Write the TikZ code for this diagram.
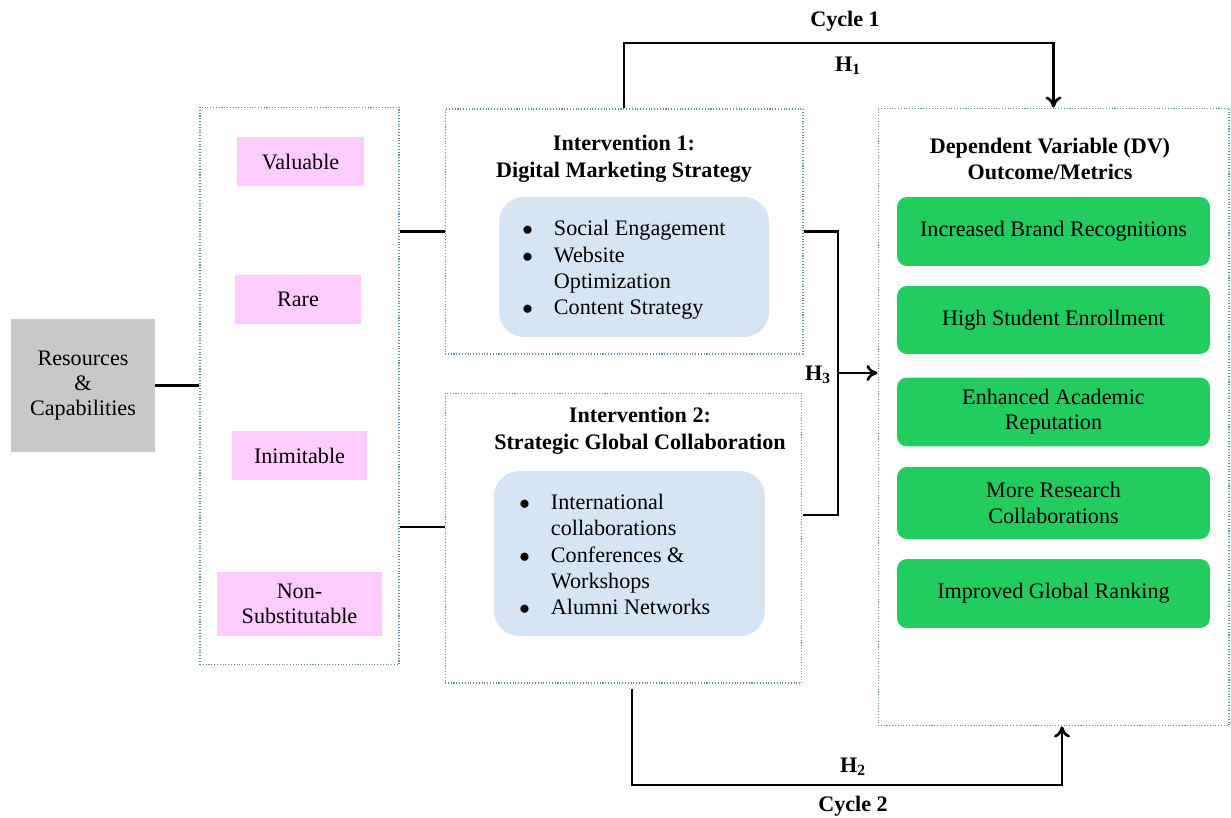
\documentclass[tikz,border=0pt]{standalone}
\usepackage{fontspec}
\setmainfont{Liberation Serif}
\usetikzlibrary{arrows.meta}
\definecolor{resgray}{RGB}{200,200,200}
\definecolor{vrinpink}{RGB}{255,204,255}
\definecolor{listblue}{RGB}{214,229,243}
\definecolor{dvgreen}{RGB}{34,204,94}
\definecolor{dotblue}{RGB}{90,150,180}
\begin{document}
\begin{tikzpicture}[x=0.02cm,y=-0.02cm,>={To[length=2.2mm,width=3.2mm]},
    every node/.style={font=\fontsize{12.6}{14.4}\selectfont,align=center,inner sep=0pt},
    ttl/.style={font=\fontsize{12.6}{15.2}\selectfont\bfseries},
    dotbox/.style={draw=dotblue,densely dotted,line width=0.6pt},
    vrinbox/.style={fill=vrinpink,minimum height=0.98cm},
    listbox/.style={fill=listblue,rounded corners=0.5cm},
    dvbox/.style={fill=dvgreen,rounded corners=0.2cm,minimum width=6.26cm,minimum height=1.38cm},
    wire/.style={line width=1.5pt}]
    \useasboundingbox (0,0) rectangle (1231,818);
    %% resources
    \node[fill=resgray,minimum width=2.88cm,minimum height=2.66cm] (res) at (83,385.5) {Resources\\ \&\\ Capabilities};
    %% VRIN attributes
    \node[dotbox,minimum width=3.98cm,minimum height=11.16cm] (vrin) at (299.5,386) {};
    \node[vrinbox,minimum width=2.54cm] (val) at (300.5,161.5) {Valuable};
    \node[vrinbox,minimum width=2.52cm] (rare) at (298,299.5) {Rare};
    \node[vrinbox,minimum width=2.70cm] (inim) at (299.5,455.5) {Inimitable};
    \node[vrinbox,minimum width=3.30cm,minimum height=1.28cm] (nons) at (299.5,604) {Non-\\Substitutable};
    %% intervention 1
    \node[dotbox,minimum width=7.16cm,minimum height=4.90cm] (int1) at (624,231.5) {};
    \node[ttl] (int1t) at (624,159) {Intervention 1:\\Digital Marketing Strategy};
    \node[listbox,minimum width=5.40cm,minimum height=2.80cm] (int1l) at (634,267) {};
    \node[anchor=west,font=\fontsize{12.6}{15}\selectfont] (int1b) at (522,270) {\begin{tabular}{@{}l@{\hspace{12pt}}l@{}}
        $\bullet$ & Social Engagement\\
        $\bullet$ & Website\\
                  & Optimization\\
        $\bullet$ & Content Strategy
    \end{tabular}};
    %% intervention 2
    \node[dotbox,minimum width=7.14cm,minimum height=5.80cm] (int2) at (623.5,538) {};
    \node[ttl] (int2t) at (640,431) {Intervention 2:\\Strategic Global Collaboration};
    \node[listbox,minimum width=5.42cm,minimum height=3.30cm] (int2l) at (629.5,553.5) {};
    \node[anchor=west,font=\fontsize{12.6}{15}\selectfont] (int2b) at (519,557) {\begin{tabular}{@{}l@{\hspace{12pt}}l@{}}
        $\bullet$ & International\\
                  & collaborations\\
        $\bullet$ & Conferences \&\\
                  & Workshops\\
        $\bullet$ & Alumni Networks
    \end{tabular}};
    %% dependent variable
    \node[dotbox,minimum width=7.02cm,minimum height=12.36cm] (dv) at (1053.5,417) {};
    \node[ttl] (dvt) at (1050,159) {Dependent Variable (DV)\\Outcome/Metrics};
    \node[dvbox] (brand) at (1053.5,231.5) {Increased Brand Recognitions};
    \node[dvbox,minimum height=1.36cm] (enrol) at (1053.5,320) {High Student Enrollment};
    \node[dvbox] (repu) at (1053.5,412) {Enhanced Academic\\Reputation};
    \node[dvbox,minimum height=1.44cm] (resch) at (1053.5,503) {More Research\\Collaborations};
    \node[dvbox] (rank) at (1053.5,593.5) {Improved Global Ranking};
    %% links to the interventions
    \coordinate (i2in) at ([yshift=0.22cm]int2.west);
    \draw[wire] (res.east) -- (res.east -| vrin.west);
    \draw[wire] (vrin.east |- int1.west) -- (int1.west);
    \draw[wire] (vrin.east |- i2in) -- (i2in);
    %% H3
    \coordinate (h3) at (838,373);
    \coordinate (i2out) at ([yshift=0.46cm]int2.east);
    \draw[wire] (int1.east) -| (h3) |- (i2out);
    \draw[wire,->] (h3) -- (h3 -| dv.west);
    \node[ttl] (h3l) at (818,375) {H\textsubscript{3}};
    %% cycle 1
    \coordinate (c1) at (845,43);
    \draw[wire,->] (int1.north) |- (c1) -| (dv.north);
    \node[ttl] (cyc1) at (845,21) {Cycle 1};
    \node[ttl] (h1) at (848,66) {H\textsubscript{1}};
    %% cycle 2
    \coordinate (c2) at (850,785);
    \draw[wire,->] ([xshift=0.17cm,yshift=-0.1cm]int2.south) |- (c2) -| ([xshift=0.17cm]dv.south);
    \node[ttl] (h2) at (853,767) {H\textsubscript{2}};
    \node[ttl] (cyc2) at (853,806) {Cycle 2};
\end{tikzpicture}
\end{document}
